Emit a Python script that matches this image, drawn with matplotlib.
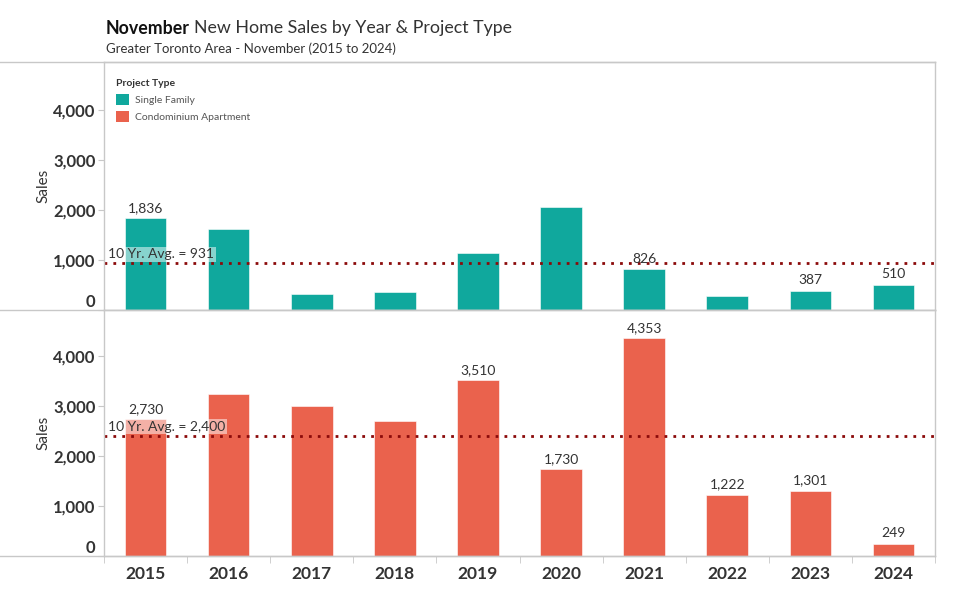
import matplotlib
matplotlib.use("Agg")
import matplotlib.pyplot as plt
from matplotlib.lines import Line2D
from matplotlib.patches import Patch

plt.rcParams['font.family'] = ['Lato', 'DejaVu Sans']

# data
years = ['2015', '2016', '2017', '2018', '2019', '2020', '2021', '2022', '2023', '2024']
single_family = [1836, 1614, 317, 351, 1131, 2063, 826, 271, 387, 510]
condo = [2730, 3228, 2988, 2689, 3510, 1730, 4353, 1222, 1301, 249]
single_labeled = [0, 6, 8, 9]          # bars that show a value label
condo_labeled = [0, 4, 5, 6, 7, 8, 9]
single_avg = 931
condo_avg = 2400
y_ticks = [0, 1000, 2000, 3000, 4000]

TEAL = '#10a89d'
CORAL = '#ea624d'
AVG_RED = '#8b0a0a'
GRID_GRAY = '#c8c8c8'
TEXT = '#333333'

fig = plt.figure(figsize=(9.8, 6.13), dpi=100)

left = 104 / 980
width = 831 / 980
ax_top = fig.add_axes([left, 1 - 310 / 613, width, 248 / 613])
ax_bot = fig.add_axes([left, 1 - 556 / 613, width, 246 / 613])

x = list(range(len(years)))


def draw_panel(ax, values, color, labeled, avg, ymax):
    ax.bar(x, values, width=0.5, color=color, edgecolor='white', linewidth=0.4)
    ax.set_xlim(-0.5, len(years) - 0.5)
    ax.set_ylim(0, ymax)
    for i in labeled:
        ax.annotate(f"{values[i]:,}", (x[i], values[i]), xytext=(0, 3),
                    textcoords='offset points', ha='center', va='bottom',
                    fontsize=10, color=TEXT)
    ax.axhline(avg, color=AVG_RED, linewidth=2, linestyle=(0, (1, 2.2)))
    ax.text(-0.45, avg + ymax * 0.012, f"10 Yr. Avg. = {avg:,}", fontsize=10,
            color=TEXT, ha='left', va='bottom',
            bbox=dict(facecolor='white', alpha=0.5, edgecolor='none', pad=1.2))

    ax.set_yticks(y_ticks)
    ax.set_yticklabels([f"{v:,}" for v in y_ticks], fontsize=12,
                       fontweight='bold', color=TEXT)
    ax.get_yticklabels()[0].set_va('bottom')
    ax.tick_params(axis='y', length=4, color=GRID_GRAY, pad=2)
    ax.set_ylabel('Sales', fontsize=11, color=TEXT, labelpad=2)
    for s in ax.spines.values():
        s.set_color(GRID_GRAY)
        s.set_linewidth(1)


draw_panel(ax_top, single_family, TEAL, single_labeled, single_avg, 4960)
draw_panel(ax_bot, condo, CORAL, condo_labeled, condo_avg, 4910)

ax_top.set_xticks([])
ax_bot.set_xticks(x)
ax_bot.set_xticklabels(years, fontsize=12.5, fontweight='bold', color=TEXT)
ax_bot.tick_params(axis='x', length=0, pad=7)
ax_bot.set_xticks([i + 0.5 for i in x[:-1]] + [-0.5, len(years) - 0.5], minor=True)
ax_bot.tick_params(axis='x', which='minor', length=5, color=GRID_GRAY)

# full width rules like the original dashboard
for yy in [62, 310, 556]:
    fig.add_artist(Line2D([0, 935 / 980], [1 - yy / 613, 1 - yy / 613],
                          color=GRID_GRAY, linewidth=1))

# legend
handles = [Patch(facecolor=TEAL, label='Single Family'),
           Patch(facecolor=CORAL, label='Condominium Apartment')]
leg = ax_top.legend(handles=handles, title='Project Type', loc='upper left',
                    bbox_to_anchor=(0.006, 0.96), frameon=False, fontsize=7.5,
                    title_fontsize=7.5, handlelength=1.2, handleheight=1.3,
                    handletextpad=0.6, labelspacing=0.55, borderaxespad=0.3)
leg.get_title().set_fontweight('bold')
leg._legend_box.align = 'left'
for t in leg.get_texts():
    t.set_color('#555555')
leg.get_title().set_color(TEXT)

# title: bold month then the rest right after it
t1 = fig.text(106 / 980, 1 - 28 / 613, 'November', fontsize=12.8, fontweight='bold',
              color='#111111', va='center')
fig.canvas.draw()
bb = t1.get_window_extent()
fig.text((bb.x1 + 4) / 980, 1 - 28 / 613, 'New Home Sales by Year & Project Type',
         fontsize=12.8, color=TEXT, va='center')
fig.text(106 / 980, 1 - 49 / 613, 'Greater Toronto Area - November (2015 to 2024)',
         fontsize=9.5, color=TEXT, va='center')

fig.savefig('out.png', dpi=100)
